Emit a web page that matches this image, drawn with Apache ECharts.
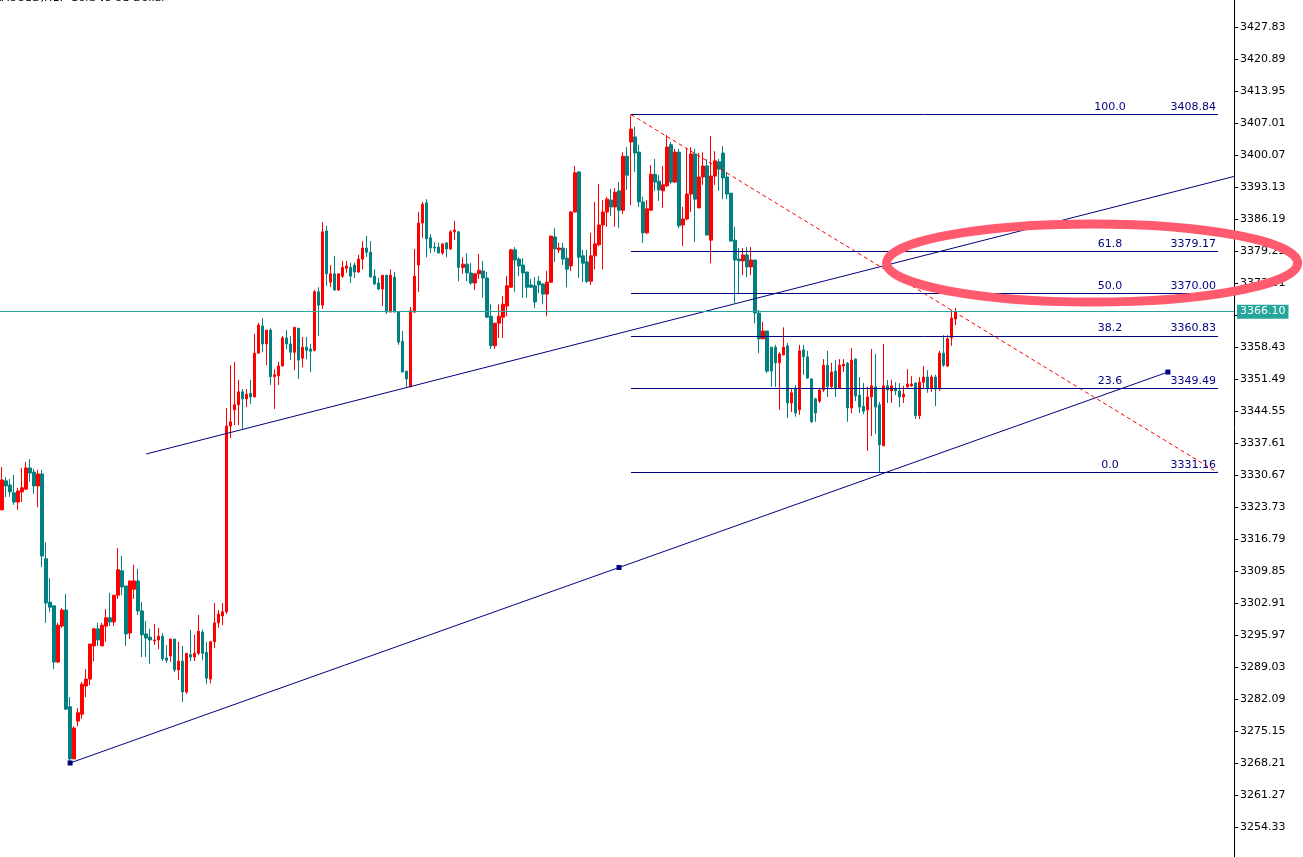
<!DOCTYPE html>
<html><head><meta charset="utf-8">
<script src="https://cdn.jsdelivr.net/npm/echarts@6/dist/echarts.min.js"></script>
<style>html,body{margin:0;padding:0;background:#fff;overflow:hidden}#c{width:1303px;height:857px}</style>
</head><body><div id="c"></div><script>
// [open, close, low, high] per bar
const candles = [
[3323.1,3329.6,3323.1,3332.4],[3329.4,3328.3,3325.9,3330.2],[3328.5,3327.0,3325.9,3329.8],[3326.8,3324.8,3324.2,3330.7],[3324.8,3327.2,3323.1,3327.9],
[3327.0,3327.9,3324.8,3332.2],[3327.6,3332.2,3327.4,3333.5],[3332.2,3331.1,3329.2,3334.1],[3331.3,3328.3,3326.6,3332.0],[3328.3,3330.9,3323.7,3331.8],
[3330.9,3313.1,3310.7,3331.8],[3312.5,3302.9,3298.6,3316.1],[3303.1,3302.0,3301.0,3308.3],[3302.3,3290.1,3288.6,3302.3],[3290.1,3298.1,3289.9,3298.6],
[3297.9,3301.4,3297.5,3301.8],[3301.4,3279.9,3279.7,3304.9],[3280.4,3269.1,3268.2,3282.5],[3269.1,3275.8,3269.1,3276.2],[3277.3,3279.1,3276.2,3280.1],
[3278.8,3285.3,3277.8,3285.8],[3284.9,3286.4,3282.5,3288.6],[3286.4,3294.0,3285.1,3294.0],[3293.6,3297.3,3290.3,3297.5],[3297.3,3294.9,3293.6,3298.6],
[3293.6,3298.1,3293.6,3298.6],[3297.9,3299.7,3294.5,3301.6],[3299.7,3298.8,3297.9,3305.1],[3298.8,3304.6,3297.9,3304.6],[3304.6,3310.1,3303.8,3314.8],
[3309.9,3306.4,3304.6,3313.1],[3306.6,3296.2,3293.6,3306.6],[3296.4,3307.7,3295.1,3307.7],[3305.9,3307.7,3303.8,3311.2],[3307.7,3301.2,3300.3,3310.3],
[3301.2,3296.0,3291.2,3303.1],[3296.2,3295.3,3291.2,3299.0],[3295.5,3294.9,3289.7,3297.3],[3294.7,3294.9,3293.8,3298.4],[3294.9,3295.7,3292.9,3297.5],
[3295.7,3290.8,3290.3,3296.4],[3291.0,3290.5,3289.9,3293.8],[3291.4,3295.1,3290.1,3295.1],[3295.1,3288.4,3287.9,3295.1],[3288.4,3290.3,3286.2,3294.5],
[3290.3,3283.6,3281.4,3293.6],[3283.6,3292.0,3283.2,3292.0],[3291.7,3291.2,3290.3,3297.1],[3291.2,3292.0,3290.3,3296.0],[3292.0,3296.8,3291.6,3300.3],
[3296.6,3292.0,3290.5,3297.1],[3292.2,3286.6,3285.3,3294.5],[3286.4,3294.5,3285.5,3294.7],[3294.5,3298.6,3293.1,3302.9],[3298.6,3300.5,3297.5,3301.4],
[3300.1,3301.0,3298.1,3302.9],[3301.0,3341.3,3300.5,3345.2],[3341.3,3342.2,3338.7,3354.5],[3344.8,3345.9,3341.5,3355.2],[3345.9,3348.7,3341.5,3351.3],
[3348.7,3347.2,3340.7,3349.3],[3347.2,3348.2,3345.4,3349.3],[3348.4,3347.6,3346.1,3351.3],[3347.6,3357.1,3347.6,3361.3],[3357.1,3363.2,3357.1,3363.7],
[3363.0,3359.1,3357.3,3364.7],[3359.1,3362.1,3354.5,3362.1],[3362.1,3352.0,3350.2,3362.5],[3352.0,3352.4,3345.0,3353.6],[3352.2,3354.3,3350.2,3355.2],
[3354.3,3360.4,3354.3,3360.8],[3360.4,3359.1,3358.0,3362.1],[3359.1,3357.3,3355.6,3360.8],[3357.3,3362.7,3353.4,3362.7],[3362.5,3355.6,3351.5,3362.5],
[3356.0,3358.4,3354.0,3360.6],[3358.4,3357.7,3355.8,3360.6],[3358.0,3357.5,3353.0,3359.1],[3357.7,3370.4,3357.5,3370.8],[3370.4,3367.5,3360.8,3371.4],
[3367.5,3383.4,3366.7,3385.5],[3383.6,3374.3,3371.7,3384.7],[3372.5,3374.3,3371.4,3376.2],[3374.3,3370.8,3370.6,3378.2],[3370.8,3374.3,3370.6,3374.3],
[3373.8,3375.7,3373.4,3377.1],[3375.5,3376.0,3374.5,3377.1],[3375.7,3373.8,3372.3,3376.7],[3376.2,3374.7,3373.4,3376.7],[3374.7,3377.5,3374.5,3378.4],
[3377.5,3379.9,3375.3,3381.4],[3379.9,3379.0,3378.0,3382.5],[3379.0,3373.6,3373.6,3381.4],[3373.8,3372.1,3371.9,3375.3],[3372.3,3371.0,3370.8,3373.4],
[3371.0,3374.0,3367.3,3374.0],[3374.0,3366.0,3365.6,3374.0],[3366.0,3374.0,3366.0,3375.3],[3373.6,3366.0,3366.0,3374.7],[3366.0,3359.5,3358.9,3366.0],
[3359.7,3353.0,3353.0,3361.9],[3353.2,3351.5,3349.8,3353.2],[3349.8,3366.3,3349.8,3367.1],[3366.0,3373.8,3365.8,3379.7],[3376.2,3385.3,3370.4,3387.7],
[3385.3,3389.4,3382.1,3389.9],[3389.7,3381.9,3377.9,3390.5],[3382.1,3379.9,3378.8,3382.9],[3380.1,3379.9,3379.0,3381.2],[3380.1,3378.8,3378.8,3381.0],
[3378.8,3380.8,3378.4,3380.8],[3381.0,3379.7,3377.9,3381.2],[3379.7,3383.4,3379.5,3383.8],[3383.4,3383.8,3381.6,3385.8],[3383.4,3375.7,3372.7,3383.6],
[3375.7,3376.4,3374.3,3377.9],[3376.4,3374.5,3372.7,3378.8],[3374.5,3372.3,3371.9,3376.6],[3372.3,3374.3,3370.8,3374.3],[3374.3,3375.1,3373.2,3378.6],
[3374.9,3373.4,3369.1,3377.1],[3373.4,3364.9,3364.7,3374.7],[3365.1,3358.7,3358.0,3367.7],[3358.7,3363.6,3358.0,3363.6],[3363.6,3365.1,3360.4,3367.7],
[3364.9,3367.7,3360.4,3369.5],[3367.3,3371.7,3365.1,3373.8],[3371.4,3379.5,3371.4,3379.7],[3379.5,3377.3,3370.4,3380.1],[3377.5,3376.0,3373.8,3377.9],
[3376.2,3374.5,3369.1,3377.7],[3374.7,3371.4,3369.1,3374.7],[3371.9,3371.4,3371.2,3373.2],[3371.7,3368.2,3366.9,3373.6],[3372.7,3371.9,3370.1,3373.8],
[3372.1,3369.9,3367.7,3372.3],[3369.9,3372.5,3365.1,3374.9],[3372.5,3382.5,3372.3,3382.5],[3382.3,3379.7,3376.9,3384.2],[3379.5,3379.9,3378.8,3381.0],
[3379.9,3377.5,3376.2,3381.0],[3377.7,3375.3,3371.4,3379.9],[3376.0,3387.7,3374.9,3387.9],[3387.7,3396.2,3387.7,3397.7],[3396.4,3377.9,3373.4,3396.6],
[3378.2,3376.6,3372.5,3379.5],[3376.9,3372.7,3372.3,3379.5],[3372.7,3378.2,3371.9,3383.2],[3378.2,3380.8,3375.3,3389.9],[3380.6,3384.9,3380.3,3393.8],
[3384.9,3387.7,3375.3,3390.3],[3387.7,3390.5,3384.5,3391.0],[3390.3,3388.8,3386.8,3392.7],[3388.8,3392.0,3384.5,3392.9],[3392.3,3388.1,3384.2,3394.2],
[3388.1,3399.8,3387.3,3400.7],[3399.8,3395.7,3392.5,3401.8],[3402.9,3405.7,3389.2,3408.84],[3404.0,3400.5,3396.4,3406.2],[3400.7,3389.9,3388.8,3402.3],
[3389.9,3383.2,3381.0,3391.0],[3383.2,3388.4,3382.9,3390.3],[3388.1,3395.9,3388.1,3397.9],[3395.9,3394.2,3392.3,3399.2],[3394.4,3392.5,3390.1,3395.7],
[3392.3,3393.6,3388.6,3397.7],[3393.4,3401.8,3393.1,3404.4],[3402.3,3394.2,3393.8,3402.9],[3394.2,3400.7,3394.0,3401.4],[3400.7,3384.7,3384.2,3401.4],
[3384.9,3386.2,3380.3,3388.8],[3386.2,3391.6,3386.0,3401.6],[3391.6,3400.3,3387.7,3401.8],[3400.3,3390.5,3381.2,3401.4],[3388.6,3395.3,3388.6,3400.5],
[3395.3,3397.7,3393.6,3400.7],[3397.7,3382.7,3382.7,3399.2],[3381.6,3395.5,3376.6,3404.2],[3395.5,3398.8,3393.6,3400.9],[3398.6,3397.0,3392.3,3399.2],
[3400.5,3395.1,3390.5,3402.0],[3395.3,3391.6,3390.5,3396.4],[3391.8,3381.4,3381.4,3391.8],[3381.6,3377.3,3368.0,3384.5],[3377.5,3377.1,3369.9,3379.9],
[3377.1,3378.4,3374.0,3379.9],[3378.4,3375.8,3373.6,3380.1],[3375.8,3377.3,3374.0,3380.1],[3377.3,3365.8,3363.6,3377.3],[3365.8,3360.2,3357.1,3366.5],
[3360.2,3361.9,3360.2,3363.9],[3361.9,3353.2,3352.8,3361.9],[3358.4,3353.2,3349.8,3358.4],[3358.4,3355.0,3349.8,3358.9],[3355.0,3356.9,3344.8,3357.3],
[3356.7,3358.4,3356.7,3362.7],[3358.7,3346.3,3343.0,3359.3],[3346.3,3348.5,3344.3,3349.3],[3349.5,3344.1,3343.3,3350.2],[3344.8,3357.6,3343.7,3358.9],
[3357.8,3356.3,3352.4,3358.9],[3356.3,3351.7,3351.5,3357.6],[3351.5,3342.2,3342.0,3351.7],[3347.2,3344.1,3342.2,3347.4],[3346.7,3349.1,3346.3,3349.5],
[3349.1,3354.5,3348.7,3355.8],[3354.5,3349.8,3347.6,3357.6],[3349.8,3353.0,3349.5,3355.0],[3353.2,3349.5,3347.6,3355.6],[3349.5,3354.5,3349.5,3355.8],
[3354.3,3354.7,3353.0,3355.8],[3354.9,3345.2,3342.2,3355.2],[3345.2,3355.6,3344.1,3358.2],[3355.8,3347.8,3346.7,3356.0],[3348.0,3345.4,3344.1,3351.9],
[3345.6,3344.5,3343.9,3350.6],[3344.8,3347.6,3335.9,3349.8],[3347.6,3350.0,3339.1,3358.0],[3349.8,3345.4,3339.6,3356.9],[3345.9,3337.2,3331.16,3346.5],
[3337.0,3350.0,3337.0,3359.1],[3350.0,3349.1,3346.3,3351.3],[3348.9,3350.0,3346.3,3351.3],[3349.3,3348.9,3348.0,3350.8],[3348.9,3347.6,3345.4,3350.6],
[3347.6,3348.2,3346.3,3350.0],[3349.8,3350.4,3349.5,3353.6],[3350.0,3350.4,3349.8,3352.1],[3350.6,3343.5,3342.8,3350.8],[3343.5,3350.8,3342.8,3351.9],
[3350.8,3351.9,3349.5,3354.3],[3351.9,3349.5,3348.5,3353.4],[3349.5,3351.9,3348.7,3352.4],[3351.9,3349.3,3345.6,3352.4],[3349.3,3357.1,3348.9,3357.6],
[3357.1,3354.5,3354.1,3361.0],[3354.3,3360.2,3354.1,3361.0],[3360.4,3364.7,3358.7,3366.5],[3364.5,3366.1,3363.2,3366.9]
];
const yTicks = [3427.83,3420.89,3413.95,3407.01,3400.07,3393.13,3386.19,3379.25,3372.31,3365.37,3358.43,3351.49,3344.55,
  3337.61,3330.67,3323.73,3316.79,3309.85,3302.91,3295.97,3289.03,3282.09,3275.15,3268.21,3261.27,3254.33,3247.39];
const fibRatios = ['100.0','61.8','50.0','38.2','23.6','0.0'];
const fibPrices = [3408.84,3379.17,3370.00,3360.83,3349.49,3331.16];
const fibSpan = [157, 303.5];                       // bar index where the fib tool starts / ends
const fibTrend = [[157,3408.84],[303.5,3331.16]];   // dashed red fib trend line
const upperTrend = [[36,3335.23],[307.5,3395.42]];
const lowerTrend = [[17,3268.21],[154,3310.61],[291,3353.0]];
const lastPrice = 3366.10;
const chartTitle = 'XAUUSD,H1:  Gold vs US Dollar';
const highlight = {center:[272.1,3376.65], radius:[51.3,8.46]}; // ellipse annotation in bar/price units

const SLOTS = 308;
const Y_MIN = 3247.82, Y_MAX = 3433.69;
const FONT = 'DejaVu Sans';
const NAVY = '#000080', RED = '#FF0000', TEAL = '#008080', PRICE = '#26A69A';
const categories = Array.from({length: SLOTS}, (_, i) => String(i));

const chart = echarts.init(document.getElementById('c'), null, {renderer: 'canvas'});
chart.setOption({
  animation: false,
  backgroundColor: '#ffffff',
  grid: {left: 0, right: 69, top: 0, bottom: 0, containLabel: false},
  xAxis: [
    {type: 'category', data: categories, show: false, boundaryGap: true},
    {type: 'value', min: -0.5, max: SLOTS - 0.5, show: false}
  ],
  yAxis: {
    type: 'value', position: 'right', min: Y_MIN, max: Y_MAX,
    axisLine: {show: true, onZero: false, lineStyle: {color: '#000', width: 1}},
    axisTick: {show: true, inside: false, length: 4, customValues: yTicks, lineStyle: {color: '#000'}},
    axisLabel: {show: true, customValues: yTicks, formatter: v => v.toFixed(2), color: '#000',
      fontFamily: FONT, fontSize: 11, margin: 6, hideOverlap: false},
    splitLine: {show: false}
  },
  series: [
    {
      type: 'candlestick', xAxisIndex: 0, yAxisIndex: 0, data: candles, barWidth: 3,
      itemStyle: {color: RED, color0: TEAL, borderColor: RED, borderColor0: TEAL, borderWidth: 1},
      markLine: {
        silent: true, symbol: ['none', 'none'], animation: false,
        lineStyle: {color: PRICE, width: 1, type: 'solid'},
        label: {show: true, position: 'end', distance: 3, formatter: lastPrice.toFixed(2), color: '#fff',
          backgroundColor: PRICE, padding: [2, 3, 1, 3], fontFamily: FONT, fontSize: 11},
        data: [{yAxis: lastPrice}]
      }
    },
    {
      type: 'line', xAxisIndex: 1, yAxisIndex: 0, data: fibTrend, symbol: 'none', z: 4,
      lineStyle: {color: RED, width: 1, type: [4, 3]},
      markLine: {
        silent: true, symbol: ['none', 'none'], animation: false,
        lineStyle: {color: NAVY, width: 1, type: 'solid'},
        label: {show: true, position: 'insideEndTop', distance: [2, 2], color: NAVY, fontFamily: FONT, fontSize: 11,
          rich: {a: {width: 92, align: 'center', color: NAVY, fontFamily: FONT, fontSize: 11},
                 b: {width: 60, align: 'right', color: NAVY, fontFamily: FONT, fontSize: 11}}},
        data: fibPrices.map((p, k) => [
          {coord: [fibSpan[0], p], label: {formatter: '{a|' + fibRatios[k] + '}{b|' + p.toFixed(2) + '}'}},
          {coord: [fibSpan[1], p]}
        ])
      }
    },
    {
      type: 'line', xAxisIndex: 1, yAxisIndex: 0, data: upperTrend, symbol: 'none', z: 4,
      lineStyle: {color: NAVY, width: 1}
    },
    {
      type: 'line', xAxisIndex: 1, yAxisIndex: 0, data: lowerTrend, symbol: 'rect', symbolSize: 5,
      showSymbol: true, z: 4, itemStyle: {color: NAVY}, lineStyle: {color: NAVY, width: 1}
    }
  ]
});

const c0 = chart.convertToPixel({xAxisIndex: 1, yAxisIndex: 0}, highlight.center);
const c1 = chart.convertToPixel({xAxisIndex: 1, yAxisIndex: 0},
  [highlight.center[0] + highlight.radius[0], highlight.center[1] + highlight.radius[1]]);
chart.setOption({
  graphic: [
    {type: 'ellipse', z: 100, silent: true,
     shape: {cx: c0[0], cy: c0[1], rx: Math.abs(c1[0] - c0[0]), ry: Math.abs(c0[1] - c1[1])},
     style: {fill: 'none', stroke: '#FF5A6E', lineWidth: 9}},
    {type: 'text', z: 100, left: -6, top: -7, silent: true,
     style: {text: chartTitle, fill: '#000', font: '11px "DejaVu Sans"'}}
  ]
});
</script></body></html>
